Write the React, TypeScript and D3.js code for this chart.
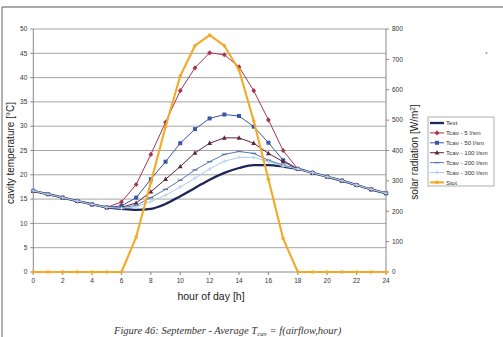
import React from "react";
import * as d3 from "d3";

const hours = d3.range(0, 25);
const textT = [16.7, 16.0, 15.3, 14.6, 13.9, 13.3, 13.0, 12.8, 13.0, 14.0, 15.6, 17.3, 19.0, 20.4, 21.4, 22.0, 22.0, 21.7, 21.2, 20.4, 19.6, 18.8, 17.9, 17.0, 16.2];
const cav5 = [16.7, 16.0, 15.3, 14.6, 13.9, 13.3, 14.4, 18.0, 24.2, 30.8, 37.3, 42.0, 45.1, 44.7, 42.2, 37.3, 31.3, 25.0, 21.2, 20.4, 19.6, 18.8, 17.9, 17.0, 16.2];
const cav50 = [16.7, 16.0, 15.3, 14.6, 13.9, 13.3, 13.6, 15.3, 19.1, 22.7, 26.5, 29.4, 31.6, 32.4, 32.1, 29.9, 26.6, 23.0, 21.2, 20.4, 19.6, 18.8, 17.9, 17.0, 16.2];
const cav100 = [16.7, 16.0, 15.3, 14.6, 13.9, 13.3, 13.3, 14.2, 16.5, 19.1, 21.7, 24.5, 26.5, 27.6, 27.6, 26.5, 24.4, 22.7, 21.2, 20.4, 19.6, 18.8, 17.9, 17.0, 16.2];
const cav200 = [16.7, 16.0, 15.3, 14.6, 13.9, 13.3, 13.2, 13.7, 15.3, 17.0, 18.9, 21.0, 22.7, 24.2, 24.8, 24.4, 23.0, 22.0, 21.2, 20.4, 19.6, 18.8, 17.9, 17.0, 16.2];
const cav300 = [16.7, 16.0, 15.3, 14.6, 13.9, 13.3, 13.1, 13.4, 14.5, 15.8, 17.5, 19.3, 21.2, 22.8, 23.6, 23.6, 22.7, 21.8, 21.2, 20.4, 19.6, 18.8, 17.9, 17.0, 16.2];
const stot = [0, 0, 0, 0, 0, 0, 0, 115, 295, 478, 645, 745, 780, 745, 665, 497, 305, 110, 0, 0, 0, 0, 0, 0, 0];

const xTicks = d3.range(0, 25, 2);
const leftTicks = d3.range(0, 51, 5);
const rightTicks = d3.range(0, 801, 100);

const seriesNames = ["Text", "Tcav - 5 l/sm", "Tcav - 50 l/sm", "Tcav - 100 l/sm", "Tcav - 200 l/sm", "Tcav - 300 l/sm", "Stot"];

type S = { name: string; values: number[]; color: string; width: number; marker: string; axis: "L" | "R"; smooth: boolean };

const series: S[] = [
  { name: seriesNames[0], values: textT, color: "#1c2658", width: 2.3, marker: "none", axis: "L", smooth: true },
  { name: seriesNames[1], values: cav5, color: "#a8344e", width: 1, marker: "diamond", axis: "L", smooth: false },
  { name: seriesNames[2], values: cav50, color: "#3a56a6", width: 1, marker: "square", axis: "L", smooth: false },
  { name: seriesNames[3], values: cav100, color: "#5c2440", width: 1, marker: "triangle", axis: "L", smooth: false },
  { name: seriesNames[4], values: cav200, color: "#5878ae", width: 1, marker: "dash", axis: "L", smooth: false },
  { name: seriesNames[5], values: cav300, color: "#a9cdea", width: 1, marker: "plus", axis: "L", smooth: false },
  { name: seriesNames[6], values: stot, color: "#f4a928", width: 2.1, marker: "circle", axis: "R", smooth: false },
];

function Marker({ type, x, y, color }: { type: string; x: number; y: number; color: string }) {
  switch (type) {
    case "diamond":
      return <path d={`M${x},${y - 2.6}L${x + 2.4},${y}L${x},${y + 2.6}L${x - 2.4},${y}Z`} fill={color} />;
    case "square":
      return <rect x={x - 2} y={y - 2} width={4} height={4} fill={color} />;
    case "triangle":
      return <path d={`M${x},${y - 2.6}L${x + 2.4},${y + 1.8}L${x - 2.4},${y + 1.8}Z`} fill={color} />;
    case "dash":
      return <line x1={x - 2.5} x2={x + 2.5} y1={y} y2={y} stroke={color} strokeWidth={1.4} />;
    case "plus":
      return (
        <g stroke={color} strokeWidth={1}>
          <line x1={x - 2} x2={x + 2} y1={y} y2={y} />
          <line x1={x} x2={x} y1={y - 2} y2={y + 2} />
        </g>
      );
    case "circle":
      return <circle cx={x} cy={y} r={1.8} fill={color} />;
    default:
      return null;
  }
}

export default function App() {
  const W = 503, H = 337;
  const x = d3.scaleLinear().domain([0, 24]).range([33.3, 386]);
  const yL = d3.scaleLinear().domain([0, 50]).range([272, 29]);
  const yR = d3.scaleLinear().domain([0, 800]).range([272, 29]);
  const font = "Arial, 'Liberation Sans', sans-serif";

  const legX = 428, legY = 117, legW = 66, legH = 69, rowH = 9.9;

  return (
    <svg width={W} height={H} style={{ position: "absolute", left: 0, top: 0, background: "#fff" }} fontFamily={font}>
      <rect x={0} y={0} width={W} height={H} fill="#fff" />
      {/* outer frame */}
      <line x1={2} x2={W} y1={7} y2={7} stroke="#555" strokeWidth={1.2} />
      <line x1={2} x2={2} y1={7} y2={H} stroke="#666" strokeWidth={1} />
      <circle cx={486.5} cy={53} r={1} fill="#999" />

      {/* gridlines */}
      {leftTicks.map((t) => (
        <line key={"g" + t} x1={x(0)} x2={x(24)} y1={yL(t)} y2={yL(t)} stroke={t === 0 ? "#888" : "#9a9a9a"} strokeWidth={t === 0 ? 1 : 0.9} />
      ))}
      {/* axes */}
      <line x1={x(0)} x2={x(0)} y1={yL(50)} y2={yL(0)} stroke="#888" />
      <line x1={x(24)} x2={x(24)} y1={yL(50)} y2={yL(0)} stroke="#888" />
      {leftTicks.map((t) => (
        <g key={"lt" + t}>
          <line x1={x(0) - 3} x2={x(0)} y1={yL(t)} y2={yL(t)} stroke="#888" />
          <text x={x(0) - 6} y={yL(t)} dy="0.35em" textAnchor="end" fontSize={6.5} fill="#333">{t}</text>
        </g>
      ))}
      {rightTicks.map((t) => (
        <g key={"rt" + t}>
          <line x1={x(24)} x2={x(24) + 3} y1={yR(t)} y2={yR(t)} stroke="#888" />
          <text x={x(24) + 6} y={yR(t)} dy="0.35em" textAnchor="start" fontSize={6.5} fill="#333">{t}</text>
        </g>
      ))}
      {xTicks.map((t) => (
        <g key={"xt" + t}>
          <line x1={x(t)} x2={x(t)} y1={yL(0)} y2={yL(0) + 3} stroke="#888" />
          <text x={x(t)} y={yL(0) + 11} textAnchor="middle" fontSize={6.5} fill="#333">{t}</text>
        </g>
      ))}

      {/* axis titles */}
      <text transform={`translate(14,153) rotate(-90)`} textAnchor="middle" fontSize={10} fill="#1a1a1a">cavity temperature [°C]</text>
      <text transform={`translate(418,152) rotate(-90)`} textAnchor="middle" fontSize={10} fill="#1a1a1a">
        solar radiation [W/m<tspan dy={-3} fontSize={6.5}>2</tspan><tspan dy={3}>]</tspan>
      </text>
      <text x={211} y={300} textAnchor="middle" fontSize={10.5} fill="#1a1a1a">hour of day [h]</text>

      {/* series */}
      {series.map((s) => {
        const ys = s.axis === "L" ? yL : yR;
        const line = d3.line<number>().x((_, i) => x(hours[i])).y((v) => ys(v)).curve(s.smooth ? d3.curveMonotoneX : d3.curveLinear);
        return (
          <g key={s.name}>
            <path d={line(s.values) || ""} fill="none" stroke={s.color} strokeWidth={s.width} strokeLinejoin="round" />
            {s.values.map((v, i) => (
              <Marker key={i} type={s.marker} x={x(hours[i])} y={ys(v)} color={s.marker === "plus" ? "#b8d6f0" : s.color} />
            ))}
          </g>
        );
      })}

      {/* legend */}
      <rect x={legX} y={legY} width={legW} height={legH} fill="#fff" stroke="#999" strokeWidth={0.8} />
      {series.map((s, i) => {
        const cy = legY + 6 + i * rowH;
        return (
          <g key={"leg" + s.name}>
            <line x1={legX + 2} x2={legX + 16} y1={cy} y2={cy} stroke={s.color} strokeWidth={s.width} />
            <Marker type={s.marker} x={legX + 9} y={cy} color={s.color} />
            <text x={legX + 18} y={cy} dy="0.35em" fontSize={6.2} fill="#333">{s.name}</text>
          </g>
        );
      })}

      {/* caption */}
      <text x={114} y={334} fontFamily="'Liberation Serif', 'DejaVu Serif', serif" fontStyle="italic" fontSize={10.5} fill="#333">
        Figure 46: September - Average T<tspan dy={2} fontSize={7}>cav</tspan><tspan dy={-2}> = f(airflow,hour)</tspan>
      </text>
    </svg>
  );
}
